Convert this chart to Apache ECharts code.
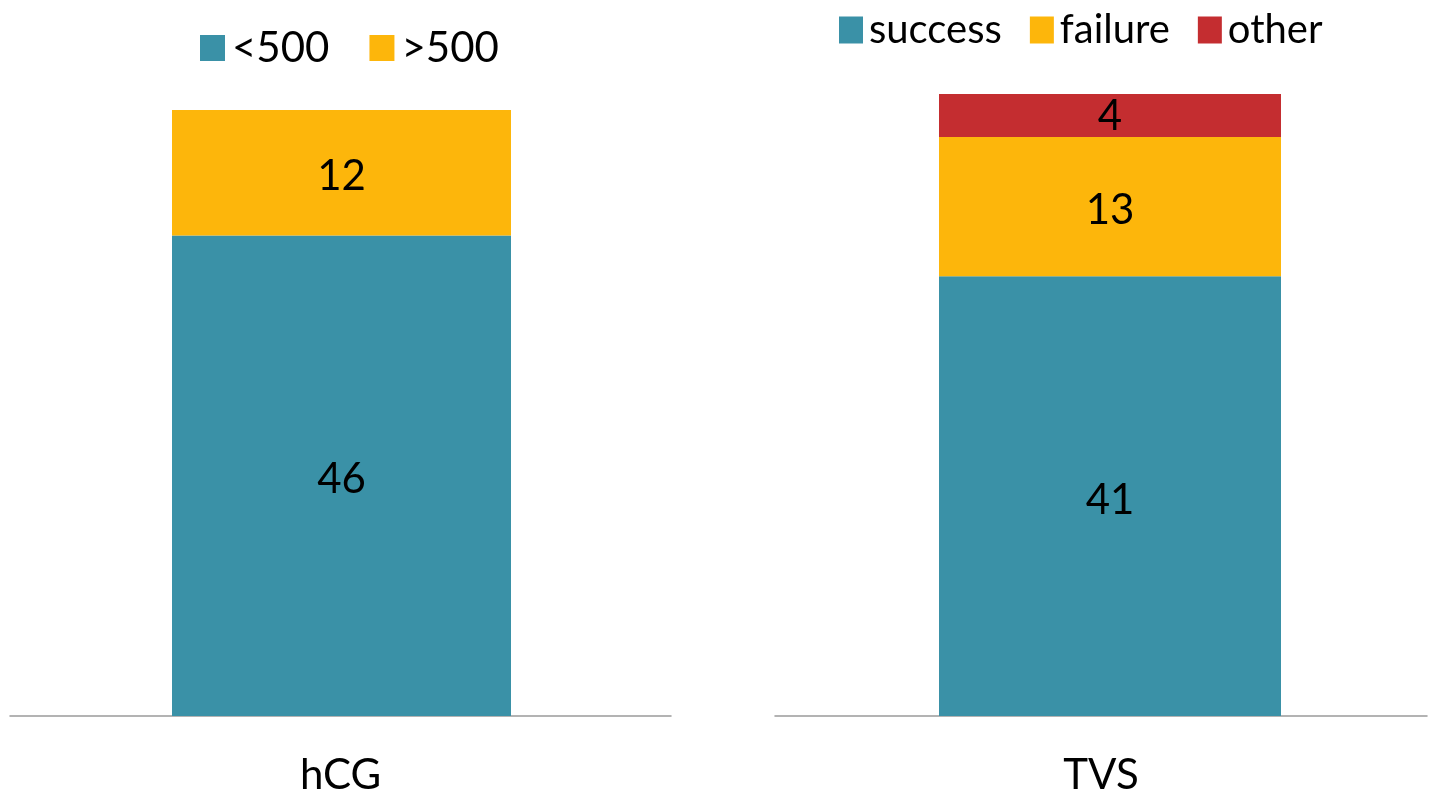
<!DOCTYPE html>
<html>
<head>
<meta charset="utf-8">
<script src="https://cdn.jsdelivr.net/npm/echarts@6/dist/echarts.min.js"></script>
<style>html,body{margin:0;padding:0;background:#fff;}#c{width:1442px;height:793px;}</style>
</head>
<body>
<div id="c"></div>
<script>
const leftCategories = ['hCG'];
const rightCategories = ['TVS'];
const below500 = [46];
const above500 = [12];
const success = [41];
const failure = [13];
const other = [4];

const TEAL = '#3A91A7', ORANGE = '#FDB60B', RED = '#C42D30';
const FONT = 'Lato';
const chart = echarts.init(document.getElementById('c'));
const label = { show: true, position: 'inside', color: '#000', fontSize: 42, fontFamily: FONT, offset: [0, 4] };
const xAxisBase = {
  type: 'category',
  axisLine: { onZero: false, lineStyle: { color: '#9a9a9a', width: 1.5 } },
  axisTick: { show: false },
  axisLabel: { color: '#000', fontSize: 42, fontFamily: FONT, margin: 38 }
};
const hiddenX = {
  type: 'category',
  axisLine: { show: false },
  axisTick: { show: false },
  axisLabel: { show: false }
};
const yAxisBase = { type: 'value', min: 0, max: 58, show: false, splitLine: { show: false } };
const gridBase = { outerBoundsMode: 'none', containLabel: false };
chart.setOption({
  animation: false,
  textStyle: { fontFamily: FONT },
  legend: [
    { data: ['<500', '>500'], left: 195, top: 22, itemWidth: 25, itemHeight: 26, itemGap: 40,
      icon: 'rect', textStyle: { fontSize: 42, color: '#000', fontFamily: FONT, padding: [0, 0, 0, 2] } },
    { data: ['success', 'failure', 'other'], left: 834, top: 5, itemWidth: 24, itemHeight: 27, itemGap: 28,
      icon: 'rect', textStyle: { fontSize: 40, color: '#000', fontFamily: FONT, padding: [0, 0, 0, 1] } }
  ],
  grid: [
    Object.assign({ left: 10, right: 771, top: 110, bottom: 77 }, gridBase),
    Object.assign({ left: 775, right: 15, top: 94, bottom: 77 }, gridBase),
    Object.assign({ left: 12, right: 771, top: 110, bottom: 77 }, gridBase),
    Object.assign({ left: 793, right: 15, top: 94, bottom: 77 }, gridBase)
  ],
  xAxis: [
    Object.assign({ gridIndex: 0, data: leftCategories }, xAxisBase),
    Object.assign({ gridIndex: 1, data: rightCategories }, xAxisBase),
    Object.assign({ gridIndex: 2, data: leftCategories }, hiddenX),
    Object.assign({ gridIndex: 3, data: rightCategories }, hiddenX)
  ],
  yAxis: [
    Object.assign({ gridIndex: 0 }, yAxisBase),
    Object.assign({ gridIndex: 1 }, yAxisBase),
    Object.assign({ gridIndex: 2 }, yAxisBase),
    Object.assign({ gridIndex: 3 }, yAxisBase)
  ],
  series: [
    { name: '<500', type: 'bar', stack: 'a', xAxisIndex: 2, yAxisIndex: 2, data: below500, barWidth: 339, itemStyle: { color: TEAL }, label, z: 1 },
    { name: '>500', type: 'bar', stack: 'a', xAxisIndex: 2, yAxisIndex: 2, data: above500, barWidth: 339, itemStyle: { color: ORANGE }, label, z: 1 },
    { name: 'success', type: 'bar', stack: 'b', xAxisIndex: 3, yAxisIndex: 3, data: success, barWidth: 342, itemStyle: { color: TEAL }, label, z: 1 },
    { name: 'failure', type: 'bar', stack: 'b', xAxisIndex: 3, yAxisIndex: 3, data: failure, barWidth: 342, itemStyle: { color: ORANGE }, label, z: 1 },
    { name: 'other', type: 'bar', stack: 'b', xAxisIndex: 3, yAxisIndex: 3, data: other, barWidth: 342, itemStyle: { color: RED }, label: Object.assign({}, label, { offset: [0, 1] }), z: 1 }
  ]
});
</script>
</body>
</html>
